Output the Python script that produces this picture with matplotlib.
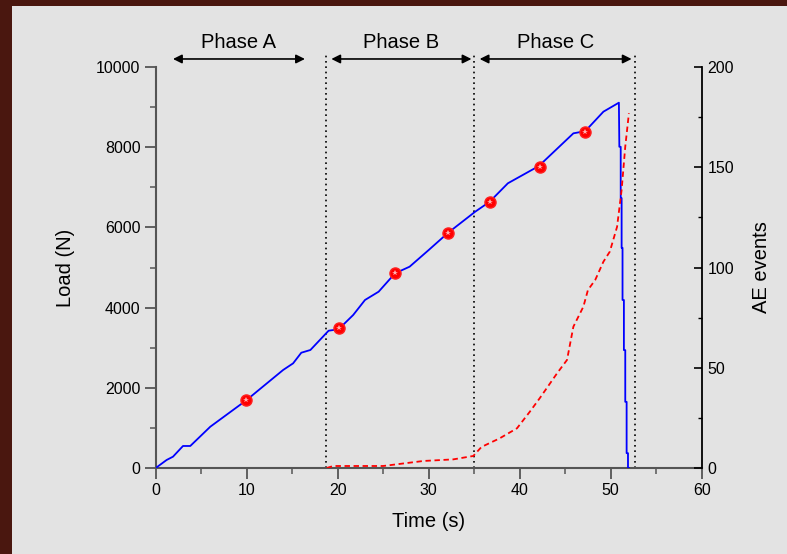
import matplotlib
matplotlib.use("Agg")
import matplotlib.pyplot as plt
from matplotlib.patches import Rectangle

plt.rcParams['font.family'] = ['Liberation Sans', 'DejaVu Sans']

# load curve (N) vs time (s)
load_t = [0, 1.2, 1.9, 3.0, 3.8, 6.0, 10.0, 11.1, 14.0, 15.1, 16.0, 17.0, 19.0, 19.5, 20.1,
          21.7, 23.0, 24.5, 26.3, 27.9, 30.0, 32.1, 35.1, 36.7, 38.7, 42.1, 45.9, 47.2, 49.2, 50.9,
          50.95, 51.1, 51.1, 51.2, 51.2, 51.3, 51.3, 51.45, 51.45, 51.6, 51.6, 51.75, 51.75, 51.9, 51.9, 52.0]
load_n = [0, 200, 282, 549, 549, 1030, 1696, 1903, 2444, 2610, 2875, 2943, 3424, 3440, 3460,
          3815, 4190, 4397, 4855, 5020, 5436, 5860, 6390, 6640, 7100, 7530, 8346, 8400, 8886, 9110,
          8010, 8010, 6730, 6730, 5490, 5490, 4190, 4190, 2940, 2940, 1650, 1650, 370, 370, 0, 0]

# AE events (right axis)
ae_t = [18.8, 19.5, 25.0, 29.4, 32.7, 34.9, 35.8, 37.8, 39.7, 41.1, 42.2, 44.1, 45.2, 45.9,
        47.0, 47.5, 48.3, 49.2, 49.9, 50.7, 51.2, 51.6, 52.0]
ae_n = [0, 1, 1, 3.5, 4.3, 6, 10.5, 14.8, 19.8, 28, 34.8, 47.2, 53.9, 70.5,
        80.5, 88.8, 93.8, 102.9, 107.9, 120.3, 138.7, 160.3, 176.9]

# marked points on load curve
mark_t = [9.9, 20.1, 26.3, 32.1, 36.7, 42.2, 47.2]
mark_n = [1696, 3484, 4855, 5860, 6641, 7513, 8387]

# phase boundaries and labels
bounds = [18.7, 35.0, 52.7]
phase_names = ['Phase A', 'Phase B', 'Phase C']
phase_arrows = [(1.9, 16.4), (19.3, 34.7), (35.6, 52.3)]

W, H = 787, 554
dark = '#4a170f'
fig = plt.figure(figsize=(W / 100, H / 100), dpi=100, facecolor='#e3e3e3')
fig.patches.append(Rectangle((0, 0), 12 / W, 1, transform=fig.transFigure,
                             facecolor=dark, edgecolor='none', zorder=-1))
fig.patches.append(Rectangle((0, 1 - 6 / H), 1, 6 / H, transform=fig.transFigure,
                             facecolor=dark, edgecolor='none', zorder=-1))

ax = fig.add_axes([155.7 / W, 1 - 468 / H, (701.7 - 155.7) / W, (468 - 67) / H])
ax.set_facecolor('none')
ax2 = ax.twinx()
ax2.set_facecolor('none')

ax.plot(load_t, load_n, color='#0000ff', lw=1.3, zorder=3)
ax.plot(mark_t, mark_n, 'o', color='#ff0000', ms=8, mec='#ff2020', mew=1, zorder=4)
ax.plot(mark_t, mark_n, '*', color='#ffb0b0', ms=4, mew=0, zorder=5)
ax2.plot(ae_t, ae_n, color='#ff0000', lw=1.3, dashes=(3, 2))

for b in bounds:
    ax.plot([b, b], [0, 10300], color='black', lw=1.2, ls=(0, (1, 2.2)), clip_on=False)

for name, (x0, x1) in zip(phase_names, phase_arrows):
    ax.annotate('', xy=(x0, 10200), xytext=(x1, 10200), annotation_clip=False,
                arrowprops=dict(arrowstyle='<|-|>', color='black', lw=1.2, mutation_scale=13,
                                shrinkA=0, shrinkB=0))
    ax.text((x0 + x1) / 2, 10610, name, ha='center', va='center', fontsize=14.5)

ax.set_xlim(0, 60)
ax.set_ylim(0, 10000)
ax2.set_ylim(0, 200)
ax.set_xticks(range(0, 61, 10))
ax.set_xticks(range(5, 60, 10), minor=True)
ax.set_yticks(range(0, 10001, 2000))
ax.set_yticks(range(1000, 10000, 2000), minor=True)
ax2.set_yticks(range(0, 201, 50))
ax2.set_yticks(range(25, 200, 50), minor=True)

for s in ['top']:
    ax.spines[s].set_visible(False)
    ax2.spines[s].set_visible(False)
ax2.spines['left'].set_visible(False)
ax2.spines['bottom'].set_visible(False)
ax.spines['right'].set_visible(False)
ax.spines['left'].set_color('#555555')
ax.spines['bottom'].set_color('#555555')
ax.spines['left'].set_linewidth(1.5)
ax.spines['bottom'].set_linewidth(1.5)
ax2.spines['right'].set_color('black')
ax2.spines['right'].set_linewidth(1.3)

ax.tick_params(which='major', direction='out', length=8, width=1.3, color='#555555',
               labelsize=11.5, pad=3)
ax.tick_params(which='minor', direction='out', length=4, width=1.1, color='#555555')
ax2.tick_params(which='major', direction='in', length=6, width=1.2, color='black',
                labelsize=11.5, pad=4)
ax2.tick_params(which='minor', direction='in', length=3, width=1.0, color='black')

ax.set_xlabel('Time (s)', fontsize=14.5, labelpad=10)
ax.set_ylabel('Load (N)', fontsize=14.5, labelpad=15)
ax2.set_ylabel('AE events', fontsize=14.5, labelpad=13)

fig.savefig('out.png', dpi=100, facecolor=fig.get_facecolor())
